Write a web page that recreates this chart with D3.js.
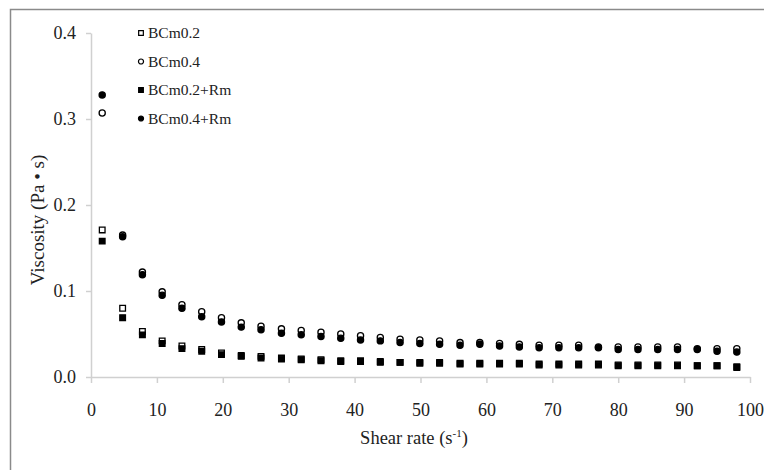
<!DOCTYPE html>
<html lang="en">
<meta charset="UTF-8">
<title>Viscosity vs shear rate</title>
<script src="https://d3js.org/d3.v7.min.js"></script>
<style>
  body { margin: 0; background: #fff; }
  svg text { font-family: "Liberation Serif", "DejaVu Serif", serif; fill: #222; }
</style>
<body>
<div id="chart"></div>
<script>
// shear rate (s^-1)
const shearRate = [1.7, 4.8, 7.8, 10.8, 13.8, 16.8, 19.8, 22.8, 25.8, 28.9, 31.9, 34.9, 37.9, 40.9, 43.9, 46.9,
  49.9, 52.9, 56, 59, 62, 65, 68, 71, 74, 77, 80, 83, 86, 89, 92, 95, 98];

// viscosity (Pa.s)
const bcm02 = [0.171, 0.080, 0.053, 0.042, 0.036, 0.032, 0.028, 0.025, 0.024, 0.022, 0.021, 0.020, 0.019, 0.019,
  0.018, 0.017, 0.017, 0.017, 0.016, 0.016, 0.016, 0.016, 0.015, 0.015, 0.015, 0.015, 0.014, 0.014, 0.014, 0.014,
  0.013, 0.013, 0.012];
const bcm04 = [0.307, 0.165, 0.122, 0.099, 0.084, 0.076, 0.069, 0.063, 0.059, 0.056, 0.054, 0.052, 0.050, 0.048,
  0.046, 0.044, 0.043, 0.042, 0.040, 0.040, 0.039, 0.038, 0.037, 0.037, 0.037, 0.035, 0.035, 0.035, 0.035, 0.035,
  0.033, 0.033, 0.033];
const bcm02rm = [0.158, 0.069, 0.049, 0.039, 0.033, 0.030, 0.026, 0.024, 0.022, 0.021, 0.020, 0.019, 0.018, 0.018,
  0.017, 0.017, 0.016, 0.016, 0.015, 0.015, 0.015, 0.015, 0.014, 0.014, 0.014, 0.014, 0.013, 0.013, 0.013, 0.013,
  0.013, 0.013, 0.011];
const bcm04rm = [0.328, 0.163, 0.119, 0.095, 0.080, 0.070, 0.064, 0.058, 0.055, 0.051, 0.049, 0.047, 0.045, 0.043,
  0.042, 0.040, 0.039, 0.038, 0.037, 0.038, 0.036, 0.035, 0.034, 0.034, 0.034, 0.034, 0.032, 0.032, 0.032, 0.032,
  0.032, 0.030, 0.029];

const seriesNames = ["BCm0.2", "BCm0.4", "BCm0.2+Rm", "BCm0.4+Rm"];
const xTicks = [0, 10, 20, 30, 40, 50, 60, 70, 80, 90, 100];
const yTicks = [0.0, 0.1, 0.2, 0.3, 0.4];

const W = 764, H = 470;
const margin = {left: 91, right: 14, top: 33, bottom: 93};

const svg = d3.select("#chart").append("svg")
  .attr("width", W).attr("height", H);

// outer frame (chart area border)
svg.append("rect")
  .attr("x", 10.5).attr("y", 9.5)
  .attr("width", 800).attr("height", 500)
  .attr("fill", "none").attr("stroke", "#8a8a8a").attr("stroke-width", 1.5);

const x = d3.scaleLinear().domain([0, 100]).range([margin.left, W - margin.right]);
const y = d3.scaleLinear().domain([0, 0.4]).range([H - margin.bottom, margin.top]);

// axes
const xAxis = svg.append("g")
  .attr("transform", `translate(0,${y(0)})`)
  .call(d3.axisBottom(x).tickValues(xTicks).tickSize(6).tickSizeOuter(0).tickPadding(20).tickFormat(d3.format("d")));
const yAxis = svg.append("g")
  .attr("transform", `translate(${x(0)},0)`)
  .call(d3.axisLeft(y).tickValues(yTicks).tickSize(5).tickSizeOuter(0).tickPadding(10).tickFormat(d3.format(".1f")));

[xAxis, yAxis].forEach(a => {
  a.select(".domain").attr("stroke", "#d0d0d0").attr("stroke-width", 1.5);
  a.selectAll(".tick line").attr("stroke", "#d0d0d0").attr("stroke-width", 1.5);
  a.selectAll(".tick text").attr("font-size", 18).attr("fill", "#222")
    .attr("font-family", "Liberation Serif, serif");
});

// axis titles
svg.append("text")
  .attr("x", 414).attr("y", 444)
  .attr("text-anchor", "middle").attr("font-size", 18.5)
  .html('Shear rate (s<tspan dy="-7" font-size="11">-1</tspan><tspan dy="7">)</tspan>');

svg.append("text")
  .attr("transform", `translate(44,220) rotate(-90)`)
  .attr("text-anchor", "middle").attr("font-size", 19)
  .text("Viscosity (Pa \u2022 s)");

// markers
const sym = [
  {data: bcm02, shape: d3.symbolSquare, fill: "#fff"},
  {data: bcm04, shape: d3.symbolCircle, fill: "#fff"},
  {data: bcm02rm, shape: d3.symbolSquare, fill: "#000"},
  {data: bcm04rm, shape: d3.symbolCircle, fill: "#000"}
];

sym.forEach(s => {
  const path = d3.symbol().type(s.shape).size(s.shape === d3.symbolSquare ? 32 : 30);
  svg.append("g").selectAll("path")
    .data(shearRate.map((r, i) => [r, s.data[i]]))
    .join("path")
    .attr("transform", d => `translate(${x(d[0])},${y(d[1])})`)
    .attr("d", path)
    .attr("fill", s.fill)
    .attr("stroke", "#000")
    .attr("stroke-width", 1.3);
});

// legend
const legend = svg.append("g").attr("transform", "translate(141,33)");
seriesNames.forEach((name, i) => {
  const s = sym[i];
  const g = legend.append("g").attr("transform", `translate(0,${i * 28.5})`);
  g.append("path")
    .attr("d", d3.symbol().type(s.shape).size(s.shape === d3.symbolSquare ? 22 : 20))
    .attr("fill", s.fill).attr("stroke", "#000").attr("stroke-width", 1.2);
  g.append("text")
    .attr("x", 7).attr("dy", "0.35em")
    .attr("font-size", 15.5)
    .text(name);
});
</script>
</body>
</html>
